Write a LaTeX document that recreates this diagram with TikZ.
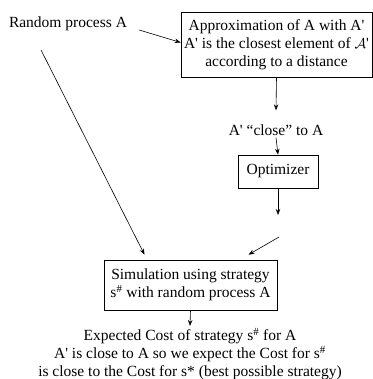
\documentclass[tikz,border=0pt]{standalone}
\usepackage{fontspec}
\setmainfont{Liberation Serif}
\usetikzlibrary{arrows.meta}
\newcommand{\apos}{\textquotesingle}
\tikzset{
  box/.style={draw, line width=0.6pt, align=center, inner sep=2pt},
  txt/.style={align=center, inner sep=2pt},
  arr/.style={line width=0.6pt, -{Stealth[length=6pt,width=4.5pt]}}
}
\begin{document}
\begin{tikzpicture}[x=1pt,y=-1pt,font=\fontsize{15.5}{18}\selectfont]
\useasboundingbox (0,0) rectangle (372,379);
\node[txt] (rp) at (68,24) {Random process A};
\node[box, minimum width=191pt, minimum height=65pt] (approx) at (276.5,44.5)
  {Approximation of A with A\apos\\A\apos{} is the closest element of $\mathcal{A}$\apos\\according to a distance};
\node[txt] (close) at (276,130) {A\apos{} ``close'' to A};
\node[box, minimum width=80pt, minimum height=33pt] (opt) at (278,171.5) {Optimizer};
\node[box, minimum width=173pt, minimum height=50pt] (sim) at (190.5,285)
  {Simulation using strategy\\s\textsuperscript{\#} with random process A};
\node[txt] (cost) at (190,354) {Expected Cost of strategy s\textsuperscript{\#} for A\\
  A\apos{} is close to A so we expect the Cost for s\textsuperscript{\#}\\
  is close to the Cost for s* (best possible strategy)};
\coordinate (rpfoot) at (41,50);
\coordinate (optend) at (278,215);
\coordinate (backstart) at (279,237);
\path
  ([xshift=10pt,yshift=-6pt]rp.east) edge [arr] ([yshift=2pt]approx.west)
  (rpfoot) edge [arr] ([xshift=-46pt,yshift=5pt]sim.north)
  (approx.south) edge [arr] ([yshift=12pt]close.north)
  (close.south) edge [arr] (opt.north)
  (opt.south) edge [arr] (optend)
  (backstart) edge [arr] ([xshift=58pt,yshift=5pt]sim.north)
  (sim.south) edge [arr] (cost.north)
;
\end{tikzpicture}
\end{document}
